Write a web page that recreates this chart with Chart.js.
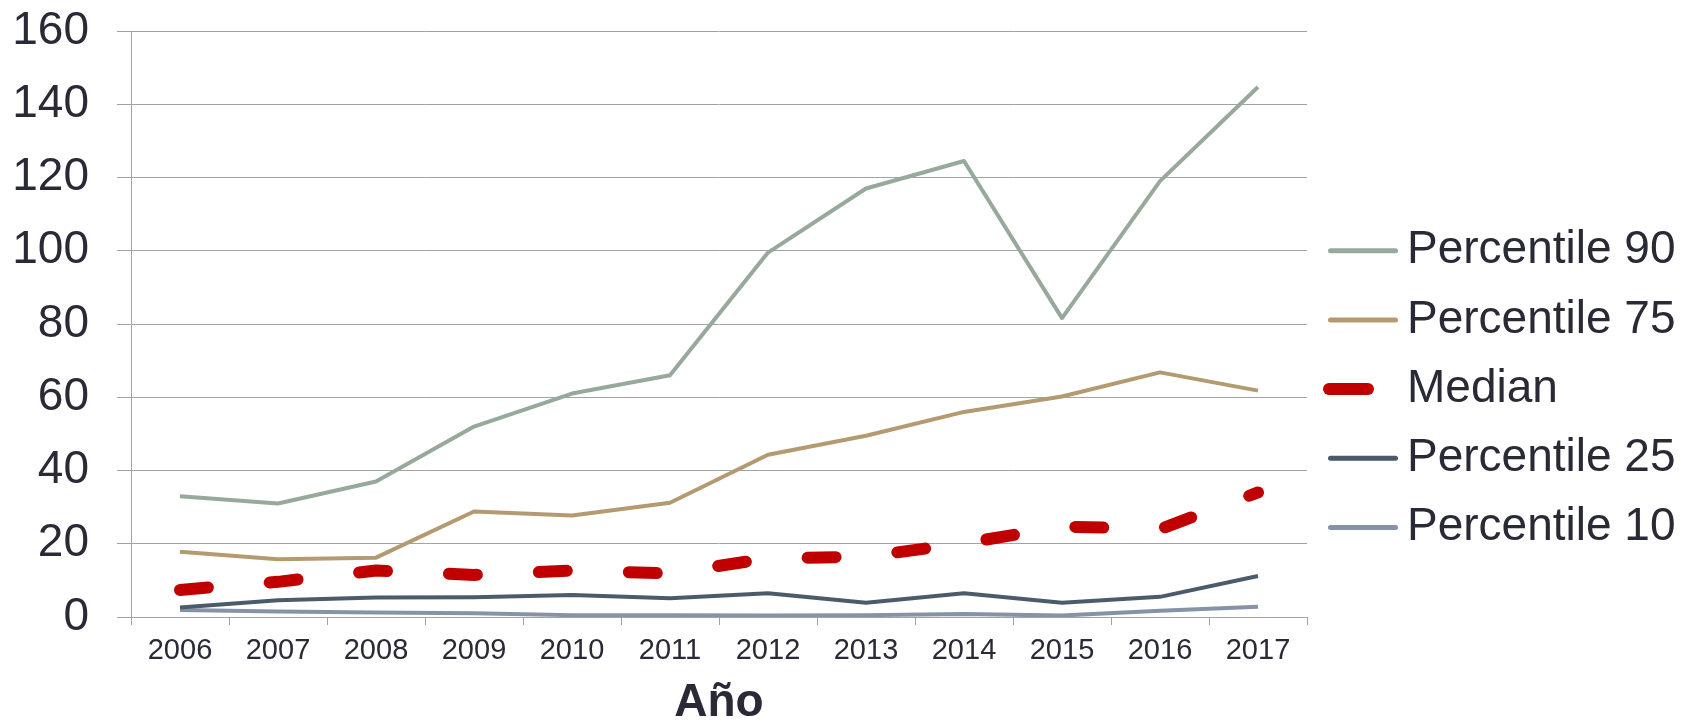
<!DOCTYPE html>
<html>
<head>
<meta charset="utf-8">
<script src="https://cdn.jsdelivr.net/npm/chart.js@4/dist/chart.umd.min.js"></script>
<style>
  html, body { margin: 0; padding: 0; background: #ffffff; }
  #wrap { width: 1689px; height: 723px; }
</style>
</head>
<body>
<div id="wrap"><canvas id="c" width="1689" height="723"></canvas></div>
<script>
const years = ['2006','2007','2008','2009','2010','2011','2012','2013','2014','2015','2016','2017'];
const p90    = [33, 31, 37, 52, 61, 66, 99.5, 117, 124.5, 81.6, 119, 144.7];
const p75    = [17.8, 15.8, 16.2, 28.8, 27.7, 31.2, 44.3, 49.5, 56, 60.2, 66.8, 61.8];
const median = [7.4, 9.6, 12.7, 11.5, 12.7, 11.9, 16.0, 16.5, 20.1, 24.7, 24.0, 34.0];
const p25    = [2.6, 4.6, 5.3, 5.4, 6.0, 5.1, 6.5, 3.9, 6.5, 3.9, 5.5, 11.2];
const p10    = [1.9, 1.5, 1.2, 1.0, 0.5, 0.5, 0.4, 0.5, 0.8, 0.4, 1.7, 2.8];
const seriesNames = ['Percentile 90', 'Percentile 75', 'Median', 'Percentile 25', 'Percentile 10'];
const yTicks = [0, 20, 40, 60, 80, 100, 120, 140, 160];
const xTitle = 'Año';

const FONT = "'Liberation Sans', Arial, sans-serif";
const TEXT = '#2a2a36';
const GRID = '#a3a3a3';

const legendPlugin = {
  id: 'customLegend',
  afterDraw(chart) {
    const ctx = chart.ctx;
    const ca = chart.chartArea;
    ctx.save();
    chart.data.datasets.forEach((ds, i) => {
      const y = ca.top + 219.7 + i * 69.2;
      ctx.strokeStyle = ds.borderColor;
      ctx.lineCap = 'round';
      ctx.setLineDash([]);
      if (ds.label === 'Median') {
        ctx.lineWidth = 12;
        ctx.beginPath();
        ctx.moveTo(ca.right + 22, y);
        ctx.lineTo(ca.right + 61, y);
        ctx.stroke();
      } else {
        ctx.lineWidth = 5;
        ctx.beginPath();
        ctx.moveTo(ca.right + 23.5, y);
        ctx.lineTo(ca.right + 88.5, y);
        ctx.stroke();
      }
      ctx.fillStyle = TEXT;
      ctx.font = '46px ' + FONT;
      ctx.textBaseline = 'middle';
      ctx.textAlign = 'left';
      ctx.fillText(ds.label, ca.right + 100, y);
    });
    ctx.restore();
  }
};

const colors = ['#97a99b', '#b39a70', '#c00000', '#4b5b6b', '#8593a7'];
const dataArr = [p90, p75, median, p25, p10];

const datasets = dataArr.map((d, i) => {
  const isMed = seriesNames[i] === 'Median';
  return {
    label: seriesNames[i],
    data: d,
    borderColor: colors[i],
    backgroundColor: colors[i],
    borderWidth: isMed ? 12 : 4,
    borderDash: isMed ? [28, 62] : [],
    borderCapStyle: isMed ? 'round' : 'butt',
    borderJoinStyle: 'round',
    pointRadius: 0,
    pointHoverRadius: 0,
    tension: 0,
    fill: false
  };
});

new Chart(document.getElementById('c'), {
  type: 'line',
  data: { labels: years, datasets },
  options: {
    responsive: false,
    animation: false,
    events: [],
    layout: { padding: { left: 12, right: 382, top: 31, bottom: 0 } },
    plugins: {
      legend: { display: false },
      tooltip: { enabled: false },
      title: { display: false }
    },
    scales: {
      x: {
        type: 'category',
        offset: true,
        afterFit(axis) { axis.height = 106; },
        grid: {
          offset: true,
          drawOnChartArea: false,
          drawTicks: true,
          tickLength: 8,
          color: GRID,
          lineWidth: 1
        },
        border: { display: true, color: GRID, width: 1 },
        ticks: {
          color: TEXT,
          font: { family: FONT, size: 29 },
          padding: 9,
          maxRotation: 0,
          autoSkip: false
        },
        title: {
          display: true,
          text: xTitle,
          color: TEXT,
          font: { family: FONT, size: 46, weight: 'bold', lineHeight: 0.85 },
          padding: { top: 0, bottom: 0 }
        }
      },
      y: {
        min: 0,
        max: 160,
        afterFit(axis) { axis.width = 119; axis.paddingTop = 0; axis.paddingBottom = 0; },
        afterBuildTicks(axis) { axis.ticks = yTicks.map(v => ({ value: v })); },
        grid: {
          color: GRID,
          lineWidth: 1,
          drawTicks: true,
          tickLength: 14
        },
        border: { display: true, color: GRID, width: 1 },
        ticks: {
          color: TEXT,
          font: { family: FONT, size: 46 },
          padding: 28
        }
      }
    }
  },
  plugins: [legendPlugin]
});
</script>
</body>
</html>
